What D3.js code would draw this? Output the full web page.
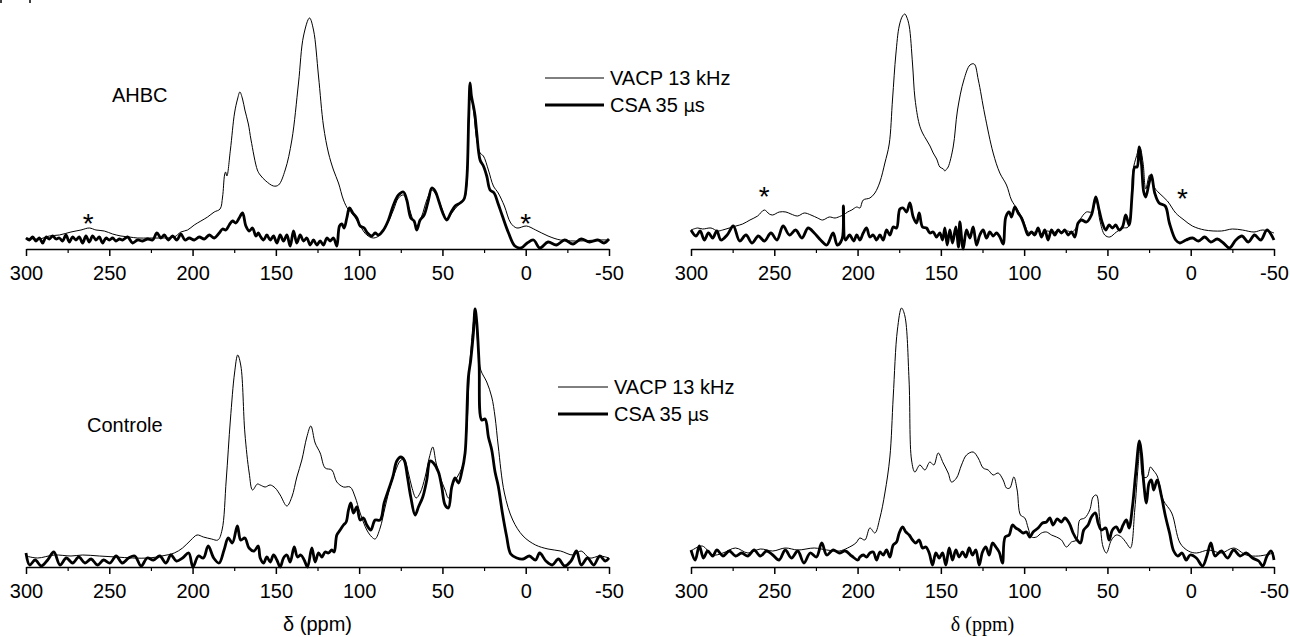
<!DOCTYPE html>
<html>
<head>
<meta charset="utf-8">
<script src="https://cdn.jsdelivr.net/npm/d3@7"></script>
<style>
  body { margin: 0; background: #fff; }
  svg { display: block; }
</style>
</head>
<body>
<div id="chart"></div>
<script>
// chemical shift axis (ppm), ticks
const majorTicks = [300, 250, 200, 150, 100, 50, 0, -50];
const minorTicks = [275, 225, 175, 125, 75, 25, -25];

// spectra: [ppm, intensity (a.u.)]
// top-left, AHBC
const tlVacp = [[300,11],[292,10],[286,13],[280,14],[273,17],[267,19],[262,21],[258,19],[253,18],[248,15],[243,13],[238,12],[233,11],[226,11],[219,11],[211,12],[207,17],[203,19],[199,24],[195,28],[191,32],[187,37],[183.5,40],[182,52],[180.8,74],[180.2,77],[179.4,73],[177.3,99],[174.8,136],[173,150],[171.6,157],[170,150],[168.6,139],[166.5,125],[164.9,109],[161.1,79],[159.4,74],[156,68],[151.4,63],[148.4,64],[144.4,79],[140.4,109],[136.4,166],[133.4,213],[129.8,231],[127.4,219],[124.4,173],[121.4,123],[118.4,96],[115.4,79],[112.4,66],[109.4,49],[106.4,39],[103.4,34],[99.4,23],[95.4,14],[91.4,11],[87.4,14],[83.4,24],[79.4,39],[76.4,51],[73.4,54],[70.4,43],[67.4,28],[65.4,23],[62.4,33],[59.4,49],[56.4,59],[53.4,53],[50.4,41],[47.4,29],[44.4,36],[40.4,44],[37,49],[35.4,63],[33.8,149],[33,153],[31.4,139],[29.4,109],[27.4,96],[25.4,93],[22.4,79],[19.4,63],[16.5,56],[12.8,43],[9,26],[5.3,21],[-0.4,23],[-6,19],[-13.4,13],[-20.9,9],[-33,8],[-42,9],[-50,9]];
const tlCsa = [[300,11],[298,9],[296,12],[294,8],[292,11],[290,6],[288,12],[286,10],[284,13],[282,10],[280,11],[278,8],[276,14],[274,7],[272,12],[270,9],[268,12],[266,6],[264,13],[262,7],[260,13],[258,9],[256,12],[254,6],[252,11],[250,9],[248,11],[246,8],[244,10],[242,9],[239,12],[236,6],[233,9],[230,8],[227,10],[224,9],[221.4,16],[219,11],[217,14],[214.6,9],[212,13],[209.4,9],[207,15],[204.6,9],[202,11],[199,9],[196,12],[193,10],[190,14],[187,11],[184,16],[182,20],[180,19],[178,24],[176,28],[174,26],[172,31],[170,36],[168,23],[166,18],[164,21],[162,13],[160.5,16],[159.4,13],[157.4,9],[155.4,14],[153.4,9],[151.4,13],[149.4,6],[147.4,14],[145.4,8],[143.4,14],[141.4,3],[139.4,18],[137.4,6],[135.4,14],[133.4,8],[131.4,11],[129.4,4],[127.4,9],[125.4,4],[123.4,8],[121.4,4],[119.4,11],[117.4,8],[115.4,11],[113.4,3],[111.8,23],[110.4,25],[109,21],[107.4,31],[105.8,41],[103.8,36],[101.4,31],[99.4,23],[97,21],[95,16],[92.4,13],[90.4,16],[88.4,14],[85.4,19],[82.4,29],[79.4,44],[76.4,54],[73.4,57],[71.4,49],[69,31],[67,28],[65.4,19],[63.4,29],[61,34],[58.4,49],[56.4,61],[54.4,58],[52.4,49],[49.8,36],[47.4,29],[45,36],[42.4,43],[39.4,46],[37,50],[35.4,69],[34.2,133],[33.4,166],[32.6,153],[31.4,143],[30.4,133],[29.4,116],[27.4,89],[25.4,83],[23.4,73],[21.4,59],[19,56],[16.5,45],[14,33],[10.3,16],[6.5,3],[2.8,1],[-0.9,6],[-4.7,9],[-8.4,1],[-13.4,7],[-18.4,4],[-23.4,9],[-28.4,5],[-33.3,10],[-38.3,7],[-43.3,9],[-47,6],[-50,10]];

// top-right
const trVacp = [[300,19],[296,21],[293,20],[288,21],[284,18],[281,19],[277,21],[273,23],[269,25],[264.6,29],[260,33],[256,39],[253,35],[251,34],[247,37],[243,37],[240,35],[236,33],[232,36],[228,34],[224,31],[221,29],[217,32],[213.5,31],[210,33],[208.5,34],[206,37],[203.5,39],[200.5,42],[198.6,41],[196.6,49],[192.6,51],[189.6,56],[186.6,67],[183.6,86],[181,105],[179,150],[177,195],[175,223],[173,233],[171.6,235],[170.5,232],[169,223],[167,185],[165.5,150],[163,125],[161,116],[158.6,109],[156.5,103],[154.6,96],[152.5,90],[150.6,82],[148.5,80],[147.6,78],[146.5,80],[145.6,82],[142.6,102],[140,139],[136.2,169],[132.5,184],[130,185],[127.5,169],[123.7,135],[118.6,96],[114.6,76],[110.6,64],[107.6,49],[104.6,41],[102.5,35],[100.6,29],[97.6,17],[95,16],[92,18],[89,15],[86,18],[83,16],[80,18],[77,17],[74,18],[71.6,17],[69.6,19],[66.6,29],[62.6,37],[59.6,37],[56.6,49],[54.6,29],[51.6,14],[48.6,12],[44.6,17],[40.6,21],[37.6,22],[34.6,79],[32.7,92],[30.6,102],[28.6,86],[27,60],[24.6,74],[21.6,61],[19,56],[14,48],[9,36],[4,29],[-1,23],[-8.4,19],[-18.4,18],[-25,20],[-31,19],[-38,17],[-43.3,19],[-50,16]];
const trCsa = [[300,19],[297,13],[294.5,18],[292,9],[289.5,16],[287,11],[284.5,18],[282,9],[278.3,14],[274.6,23],[270.8,8],[267,14],[263.3,6],[259.6,13],[255.9,8],[252,16],[248.4,9],[244.7,23],[240.9,14],[237.2,19],[233.4,11],[229.7,21],[226,16],[222.2,9],[218.5,4],[214.7,16],[212.2,4],[209.3,10],[208.5,43],[207.3,9],[204.8,14],[202.3,8],[200.5,14],[198.6,9],[196.6,16],[194.6,21],[192.6,12],[190.6,14],[188.6,9],[186.6,14],[184.6,9],[182.6,19],[180.6,14],[178.6,22],[176.6,21],[174.6,40],[172.6,41],[170.6,37],[168.6,46],[166.6,32],[164.6,26],[163,36],[161,22],[158.6,21],[156.6,16],[154.6,17],[152.6,12],[150.6,16],[149,9],[147.6,21],[146.2,4],[144.6,19],[143,6],[141,22],[139.4,2],[138.6,27],[136.6,0],[134.6,19],[132.6,11],[130.6,22],[128.6,4],[126.6,14],[124.6,19],[122.6,11],[120.6,17],[118.6,13],[116.6,16],[114.6,12],[112.6,5],[111,32],[109,37],[107.6,32],[105.6,42],[103.6,36],[101.6,31],[99.6,22],[97.6,14],[95.6,17],[93.6,14],[91.6,21],[89.6,12],[87.6,19],[85.6,9],[83.6,19],[81.6,14],[79.6,19],[77.6,16],[75.6,19],[73.6,14],[71.6,17],[69.6,12],[67.6,26],[65.6,29],[62.6,27],[59.6,34],[57,52],[55,39],[53,26],[51,19],[49,24],[47,21],[45,24],[43,19],[41,22],[39,34],[37,24],[35,59],[33.6,82],[32.2,82],[31,102],[29.6,86],[28.2,57],[27,52],[25,66],[23.6,74],[21.6,56],[19,46],[15.3,43],[12.8,26],[9,9],[6.5,6],[2.8,9],[-1.1,11],[-4.7,8],[-8.4,12],[-12,7],[-15.9,10],[-19.6,6],[-23.3,1],[-27.1,9],[-30.8,13],[-34.6,7],[-38.3,14],[-42.1,9],[-45.8,19],[-50,9]];

// bottom-left, Controle
const blVacp = [[300,11],[293,9],[283,12],[273,11],[266,12],[256,11],[246,10],[236,9],[226,9],[218.5,11],[211,14],[206,19],[201,27],[197.3,32],[193.5,30],[188.6,28],[184.8,27],[182.3,37],[179.8,87],[177.3,147],[174.8,194],[172.9,212],[171,201],[168.6,134],[166,94],[164,77],[161.1,83],[159.4,82],[156.4,80],[153.4,82],[150.4,79],[147.4,72],[143.4,61],[140.4,70],[137.4,90],[134.4,107],[131.4,130],[129,141],[126.4,124],[123.4,114],[120.4,99],[116.4,97],[113.4,85],[109.4,80],[105.4,80],[102.4,70],[99.4,54],[95.4,37],[92.4,30],[90.4,28],[87.4,39],[84.4,60],[81.4,80],[78.4,95],[75.4,106],[73,108],[70.4,94],[68.4,80],[65.8,69],[63.4,74],[60.4,90],[57.8,110],[55.8,120],[53.8,104],[51.4,90],[48.4,77],[46.4,69],[43.4,84],[40.4,92],[37.4,104],[35.4,137],[33.4,207],[30.4,254],[28.4,214],[27,197],[23.4,185],[20.4,170],[18.4,150],[16.5,121],[12.8,74],[7.8,47],[1.6,31],[-5.9,22],[-13.4,18],[-20.9,16],[-28.4,12],[-33.3,16],[-38.3,9],[-44.5,11],[-50,9]];
const blCsa = [[300,14],[297.8,2],[294.5,7],[290.8,1],[287,7],[283.3,15],[279.6,2],[275.8,9],[272,4],[268.3,10],[264.6,4],[260.9,8],[257.1,2],[253.4,7],[249.6,4],[245.9,11],[242.2,4],[238.4,9],[234.7,11],[230.9,1],[227.2,9],[223.5,7],[219.7,11],[216,4],[213,12],[209.7,6],[206,9],[202.3,14],[199.8,0],[196.5,11],[193.5,9],[190.6,21],[187.3,9],[184.1,4],[181.1,17],[178.6,29],[176.1,24],[173.1,41],[171.1,27],[168.6,29],[166.1,19],[163.1,16],[160.6,21],[159.4,9],[157.4,4],[155.4,10],[153.4,5],[151.4,12],[149.4,7],[147.4,0],[145.4,9],[143.4,12],[141.4,5],[139,20],[137,10],[135,12],[133,7],[131,0],[128.4,19],[126.4,5],[124.4,14],[122.4,10],[120.4,15],[118.4,14],[116.4,17],[115,15],[113.4,32],[111.4,37],[109.4,42],[107.8,45],[106.4,57],[105,64],[103.4,54],[101.4,60],[99.4,47],[97.4,49],[95.4,42],[93,37],[90.4,47],[87.4,47],[85,64],[82.4,77],[79.8,90],[77.4,106],[75,110],[73,107],[71,90],[69,70],[66.4,52],[64.4,60],[61.8,70],[59.4,87],[57.4,106],[55.4,104],[52.4,95],[50.4,80],[48.4,62],[46.4,59],[44.4,80],[42.4,89],[40.4,84],[38.4,95],[36.4,114],[34.4,190],[33,207],[31.4,234],[30.4,258],[29.4,245],[28,204],[26.4,147],[24.4,148],[22.4,130],[20.4,117],[18.4,95],[16.5,81],[14,54],[11.5,31],[9,13],[5.3,9],[1.6,8],[-2.2,11],[-5.9,7],[-8.4,14],[-12.1,6],[-15.9,2],[-19.6,8],[-23.4,1],[-27.2,6],[-30.5,16],[-33.3,2],[-37.1,9],[-40.8,2],[-44.5,11],[-47.8,6],[-50,9]];

// bottom-right
const brVacp = [[300,16],[293.3,21],[287,12],[280.8,14],[273.3,19],[265.8,14],[258.4,18],[250.9,16],[243.4,19],[235.9,17],[226,19],[218.5,17],[211,16],[206,19],[201,24],[198.6,29],[195.6,27],[192.6,39],[189.6,34],[186.6,49],[183.6,74],[180.6,110],[178.6,170],[176.1,237],[173.6,259],[171.6,251],[169.1,187],[167.6,107],[165.6,95],[162.6,102],[159.6,97],[156.6,105],[154.2,102],[151.6,114],[148.6,104],[145.6,94],[143.6,85],[140.6,89],[137.6,102],[134.6,112],[130.6,115],[127.6,109],[124.6,99],[121.6,97],[118.6,92],[115.6,94],[112.6,87],[110.6,79],[108.6,79],[106.2,90],[104.2,77],[102.2,52],[99.6,49],[97.6,39],[95.6,30],[92.6,30],[89.6,34],[86.6,35],[83.6,32],[80.6,30],[77.6,27],[74.6,20],[71.6,25],[68.6,27],[66.6,47],[63.6,49],[60.6,57],[58.6,70],[56.6,72],[54.6,47],[52.6,20],[50.6,14],[47.6,27],[44.6,32],[41.6,30],[38.6,24],[36.2,19],[33.6,57],[31.6,100],[30.2,124],[28.6,90],[26.2,90],[24.2,100],[22.6,97],[20.1,91],[16.5,67],[11.4,54],[6.4,24],[1.4,16],[-3.4,14],[-10.9,17],[-18.4,14],[-25.8,19],[-33.3,12],[-40.8,11],[-50,14]];
const brCsa = [[300,17],[297.5,7],[295,21],[292.5,9],[290,16],[287,11],[284.5,17],[280.8,11],[277,16],[273.3,11],[269.6,14],[265.8,11],[262.1,17],[258.4,11],[254.6,16],[250.9,12],[247.1,7],[243.4,17],[239.7,9],[235.9,16],[232.2,4],[228.4,14],[224.7,10],[221.5,24],[218.5,12],[214.7,17],[211,14],[207.3,16],[203.5,11],[199.8,7],[198.6,10],[196.6,12],[194.6,10],[192.6,14],[190.6,15],[188.6,7],[186.6,15],[184.6,12],[182.6,17],[180.6,10],[178.6,22],[176.6,25],[175,34],[173,40],[171,35],[169,32],[167,27],[165,24],[163,27],[161,19],[159,20],[157,14],[155,2],[153,14],[151,9],[149,14],[147,2],[145,19],[143,7],[141,17],[139,10],[137,15],[135,10],[133,19],[131,12],[129,17],[127,2],[125,15],[123,20],[121,12],[119,24],[117,20],[115,15],[113,4],[111.4,30],[109,32],[107,42],[105,39],[103,37],[100.6,34],[98.6,35],[96.6,30],[94.6,35],[91.6,39],[89,44],[86.6,45],[84.6,49],[82.6,42],[80.2,48],[77.6,45],[75.6,49],[73,44],[70.6,34],[68.2,27],[66.2,24],[64.2,37],[61.6,42],[59.6,50],[57.2,54],[55.6,44],[53.6,37],[51,39],[49,27],[47,37],[44.6,40],[42.6,35],[40.6,42],[38.6,47],[37,39],[35,60],[33,94],[30.8,126],[29.6,114],[28.2,84],[26.6,64],[25,84],[23.6,87],[22.2,77],[20.1,87],[17.6,71],[15.2,51],[12.7,34],[10.2,16],[7.7,11],[5.2,14],[2.7,7],[0.3,12],[-3.4,9],[-7.1,1],[-9.7,11],[-12.1,24],[-14.6,11],[-18.4,16],[-22.1,9],[-25.8,17],[-29.6,11],[-33.3,14],[-37.1,9],[-40.8,6],[-43.3,1],[-45.8,11],[-48.3,16],[-50,7]];

// sample names, legend entries, spinning-sideband marks [ppm, intensity]
const sampleNames = ['AHBC', 'Controle'];
const legendLabels = ['VACP 13 kHz', 'CSA 35 '];
const starsTop = [[[262.6, 32], [0, 32]], [[256, 59], [5, 57]]];

const W = 1290, H = 637;
const svg = d3.select('#chart').append('svg')
  .attr('width', W).attr('height', H)
  .style('font-family', '"Liberation Sans", Arial, sans-serif');

const panels = [
  { x0: 26, x1: 609, base: 249, vacp: tlVacp, csa: tlCsa },
  { x0: 691, x1: 1274, base: 249, vacp: trVacp, csa: trCsa },
  { x0: 26, x1: 609, base: 567, vacp: blVacp, csa: blCsa },
  { x0: 691, x1: 1274, base: 567, vacp: brVacp, csa: brCsa }
];

panels.forEach(p => {
  const x = d3.scaleLinear().domain([300, -50]).range([p.x0, p.x1]);
  const y = d3.scaleLinear().domain([0, 240]).range([p.base, p.base - 240]);
  p.x = x; p.y = y;
  const g = svg.append('g');

  const line = d3.line()
    .x(d => x(d[0]))
    .y(d => y(d[1]))
    .curve(d3.curveCatmullRom.alpha(0.5));

  g.append('path').datum(p.vacp)
    .attr('fill', 'none').attr('stroke', '#000')
    .attr('stroke-width', 1)
    .attr('stroke-linejoin', 'round')
    .attr('d', line);

  g.append('path').datum(p.csa)
    .attr('fill', 'none').attr('stroke', '#000')
    .attr('stroke-width', 2.8)
    .attr('stroke-linejoin', 'round')
    .attr('d', line);

  // axis, major + minor ticks
  const ax = g.append('g')
    .attr('transform', `translate(0,${p.base})`)
    .call(d3.axisBottom(x).tickValues(majorTicks).tickSize(7).tickSizeOuter(0)
      .tickPadding(10).tickFormat(d => String(d)));
  ax.select('.domain').attr('stroke-width', 1.5);
  ax.selectAll('.tick line').attr('stroke-width', 1.5);
  ax.selectAll('.tick text')
    .attr('font-family', '"Liberation Sans", Arial, sans-serif')
    .attr('font-size', 20).attr('fill', '#000');

  const mx = g.append('g')
    .attr('transform', `translate(0,${p.base})`)
    .call(d3.axisBottom(x).tickValues(minorTicks).tickSize(4).tickFormat(''));
  mx.select('.domain').remove();
  mx.selectAll('.tick line').attr('stroke-width', 1.2);
});

// sample labels
svg.append('text').attr('x', 112).attr('y', 102)
  .attr('font-size', 20).text(sampleNames[0]);
svg.append('text').attr('x', 87).attr('y', 432)
  .attr('font-size', 20).text(sampleNames[1]);

// legends
const legendPos = [{ x: 545, y: 78, len: 59 }, { x: 558, y: 387, len: 50 }];
legendPos.forEach(lp => {
  legendLabels.forEach((lab, j) => {
    const yy = lp.y + j * 27;
    svg.append('line')
      .attr('x1', lp.x).attr('x2', lp.x + lp.len)
      .attr('y1', yy).attr('y2', yy)
      .attr('stroke', '#000').attr('stroke-width', j === 0 ? 1 : 2.8);
    const t = svg.append('text')
      .attr('x', lp.x + lp.len + 6).attr('y', yy + 7)
      .attr('font-size', 20).text(lab);
    if (j === 1) {
      // mu set in a symbol-like face, as in the original
      t.append('tspan').attr('font-size', 18)
        .attr('font-family', '"DejaVu Sans", sans-serif').text('\u03bc');
      t.append('tspan').text('s');
    }
  });
});

// sideband asterisks
starsTop.forEach((st, i) => {
  const p = panels[i];
  st.forEach(s => {
    svg.append('text')
      .attr('x', p.x(s[0])).attr('y', p.y(s[1]) + 16)
      .attr('text-anchor', 'middle')
      .attr('font-size', 28).text('*');
  });
});

// x axis titles
svg.append('text')
  .attr('x', (panels[2].x0 + panels[2].x1) / 2).attr('y', 631)
  .attr('text-anchor', 'middle').attr('font-size', 20)
  .text('\u03b4 (ppm)');
svg.append('text')
  .attr('x', (panels[3].x0 + panels[3].x1) / 2).attr('y', 631)
  .attr('text-anchor', 'middle').attr('font-size', 20)
  .attr('font-family', '"Liberation Serif", "Times New Roman", serif')
  .text('\u03b4 (ppm)');

// clipped marks at the top-left corner
svg.append('path')
  .attr('d', 'M1,0V3M30,0V3')
  .attr('stroke', '#000').attr('stroke-width', 1.5);
</script>
</body>
</html>
